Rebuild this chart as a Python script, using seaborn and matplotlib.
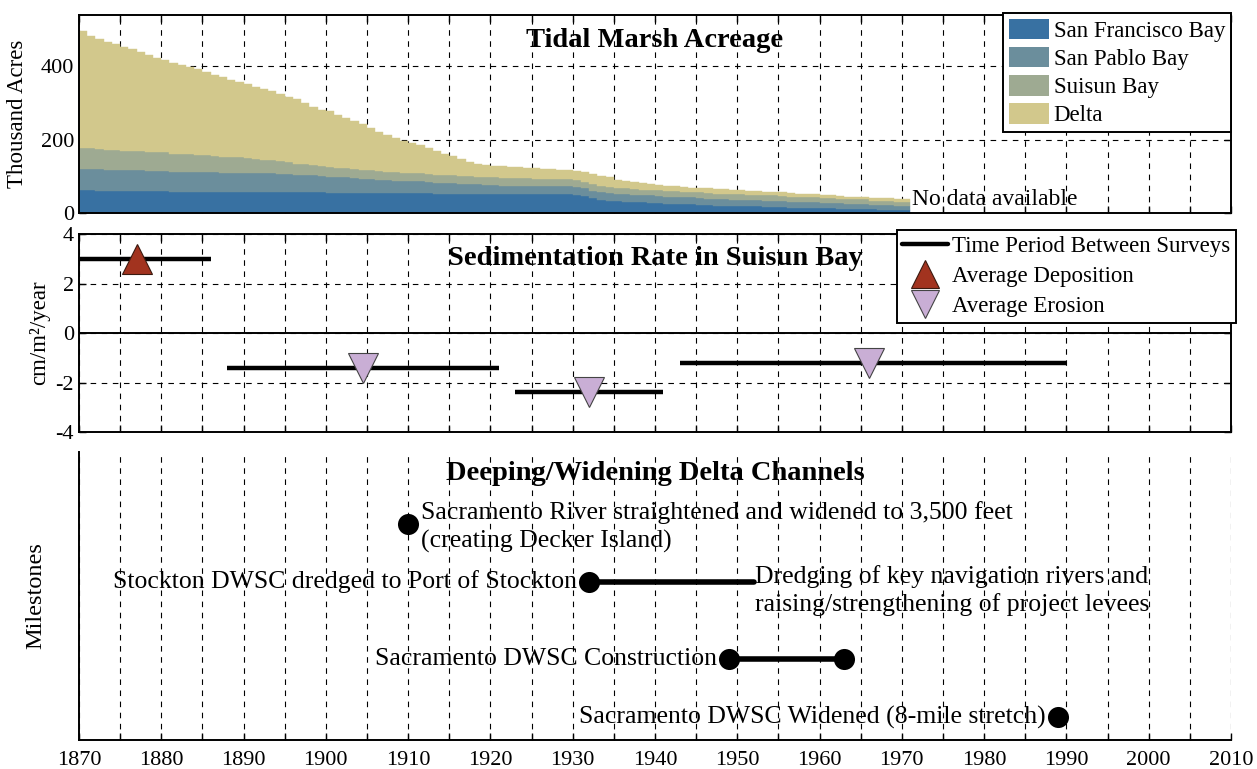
import matplotlib
matplotlib.use("Agg")
import matplotlib.pyplot as plt
import seaborn as sns
import pandas as pd
from matplotlib.patches import Patch
from matplotlib.lines import Line2D
from matplotlib.ticker import MultipleLocator, FuncFormatter

# ---------------- data: tidal marsh acreage (thousand acres) ----------------
years = list(range(1870, 1971))
san_francisco_bay = [
    62, 62, 61, 59, 59, 59, 59, 59, 59, 59,
    59, 57, 57, 57, 57, 57, 57, 57, 57, 57,
    57, 57, 57, 57, 57, 57, 57, 57, 57, 57,
    55, 55, 55, 55, 55, 55, 55, 55, 55, 55,
    55, 55, 55, 52, 52, 52, 52, 52, 52, 52,
    52, 52, 52, 52, 52, 52, 52, 52, 52, 52,
    50, 46, 40, 36, 33, 32, 31, 30, 29, 28,
    27, 25, 25, 24, 24, 23, 21, 20, 20, 19,
    19, 18, 18, 17, 17, 16, 15, 14, 14, 14,
    13, 13, 12, 12, 11, 11, 10, 9, 9, 8,
    7]
san_pablo_bay = [
    59, 59, 58, 58, 58, 57, 57, 57, 56, 56,
    56, 55, 55, 55, 54, 54, 54, 53, 53, 53,
    52, 52, 51, 51, 50, 49, 48, 47, 46, 45,
    44, 43, 42, 40, 39, 37, 36, 35, 33, 32,
    31, 31, 30, 30, 29, 29, 28, 27, 26, 25,
    24, 23, 23, 22, 22, 21, 21, 21, 21, 21,
    21, 21, 21, 21, 21, 21, 20, 20, 20, 20,
    20, 19, 19, 19, 19, 18, 18, 18, 18, 17,
    17, 17, 17, 16, 16, 16, 15, 15, 15, 15,
    14, 14, 14, 13, 13, 13, 12, 12, 12, 11,
    11]
suisun_bay = [
    56, 56, 55, 55, 54, 54, 53, 53, 52, 51,
    51, 50, 49, 48, 47, 46, 45, 44, 43, 42,
    40, 38, 37, 36, 34, 32, 30, 29, 28, 27,
    26, 26, 25, 25, 24, 24, 24, 23, 23, 23,
    23, 23, 22, 22, 22, 22, 22, 21, 21, 21,
    21, 21, 21, 21, 21, 21, 20, 20, 19, 19,
    18, 18, 17, 17, 16, 16, 16, 16, 15, 15,
    15, 15, 15, 15, 15, 15, 15, 15, 15, 15,
    15, 15, 15, 15, 15, 15, 14, 14, 14, 14,
    14, 14, 13, 13, 13, 13, 12, 12, 12, 12,
    12]
delta = [
    318, 306, 300, 295, 289, 283, 277, 270, 263, 258,
    250, 248, 243, 237, 234, 227, 221, 216, 211, 206,
    202, 197, 192, 188, 184, 179, 175, 168, 159, 153,
    152, 144, 138, 130, 124, 116, 107, 100, 93, 87,
    82, 76, 70, 66, 59, 52, 46, 40, 36, 33,
    32, 31, 30, 30, 29, 29, 28, 27, 26, 25,
    26, 28, 29, 27, 27, 22, 21, 19, 18, 17,
    15, 16, 14, 13, 11, 12, 13, 13, 12, 13,
    11, 11, 10, 10, 9, 9, 10, 10, 9, 8,
    8, 7, 8, 7, 7, 6, 8, 8, 7, 8,
    8]
region_names = ["San Francisco Bay", "San Pablo Bay", "Suisun Bay", "Delta"]
region_colors = ["#3871A2", "#6B8E9C", "#9EAA92", "#D2C88C"]

# ---------------- data: sedimentation rate in Suisun Bay ----------------
survey_start = [1870, 1888, 1923, 1943]
survey_end = [1886, 1921, 1941, 1990]
survey_mid = [1877, 1904.5, 1932, 1966]
sed_rate = [3.0, -1.4, -2.4, -1.2]

# ---------------- data: milestones ----------------
event_labels = [
    "Sacramento River straightened and widened to 3,500 feet\n(creating Decker Island)",
    "Stockton DWSC dredged to Port of Stockton",
    "Sacramento DWSC Construction",
    "Sacramento DWSC Widened (8-mile stretch)",
]
event_start = [1910, 1932, 1949, 1989]
event_end = [1910, 1952, 1963, 1989]
event_end_dot = [False, False, True, False]
event_level = [0.75, 0.55, 0.28, 0.08]
event_label_side = ["right", "left", "left", "left"]
dredging_label = "Dredging of key navigation rivers and\nraising/strengthening of project levees"

# ---------------- style ----------------
sns.set_style("ticks")
plt.rcParams["font.family"] = ["Liberation Serif", "DejaVu Serif"]
plt.rcParams["axes.unicode_minus"] = False
for k in ("text.color", "axes.labelcolor", "xtick.color", "ytick.color", "axes.edgecolor"):
    plt.rcParams[k] = "black"
FS_TICK = 16
FS_LEG = 16.5
FS_TITLE = 20.5
FS_ANN = 18.5
FS_LAB = 16.5
grid_kw = dict(linestyle=(0, (5, 5)), color="black", linewidth=0.8)

fig = plt.figure(figsize=(12.57, 7.69), dpi=100)
ax1 = fig.add_axes([0.0628, 0.723, 0.9165, 0.2575])
ax2 = fig.add_axes([0.0628, 0.4382, 0.9165, 0.2575])
ax3 = fig.add_axes([0.0628, 0.0377, 0.9165, 0.3745])

def year_fmt(v, pos):
    return f"{int(round(v))}" if int(round(v)) % 10 == 0 else ""

for ax in (ax1, ax2, ax3):
    ax.set_xlim(1870, 2010)
    ax.xaxis.set_major_locator(MultipleLocator(5))
    ax.set_axisbelow(True)
    ax.tick_params(direction="in", length=5, width=1, labelsize=FS_TICK, color="black",
                   labelcolor="black")
    for s in ax.spines.values():
        s.set_linewidth(1.4)
        s.set_color("black")

# ---------------- top panel ----------------
df = pd.DataFrame({"year": years, region_names[0]: san_francisco_bay,
                   region_names[1]: san_pablo_bay, region_names[2]: suisun_bay,
                   region_names[3]: delta})
x_edges = years + [years[-1] + 1]
lower = [0] * len(years)
for name, col in zip(region_names, region_colors):
    upper = [a + b for a, b in zip(lower, df[name])]
    ax1.fill_between(x_edges, lower + [lower[-1]], upper + [upper[-1]],
                     step="post", color=col, edgecolor=col, linewidth=0.3)
    lower = upper
ax1.set_ylim(0, 540)
ax1.set_yticks([0, 200, 400])
ax1.grid(True, axis="both", **grid_kw)
ax1.tick_params(top=True, right=True, labelbottom=False)
ax1.set_ylabel("Thousand Acres", fontsize=FS_LAB)
ax1.yaxis.set_label_coords(-0.0443, 0.5)
ax1.text(1940, 0.87, "Tidal Marsh Acreage", transform=ax1.get_xaxis_transform(),
         ha="center", va="center", fontsize=FS_TITLE, fontweight="bold")
ax1.text(1971.2, 36, "No data available", ha="left", va="center", fontsize=17)
leg1 = ax1.legend([Patch(facecolor=c, edgecolor="none") for c in region_colors],
                  region_names, loc="upper right", bbox_to_anchor=(1.0, 1.01),
                  borderaxespad=0, fontsize=FS_LEG, frameon=True, fancybox=False,
                  handlelength=1.75, handleheight=1.0, handletextpad=0.2,
                  labelspacing=0.22, borderpad=0.25)
leg1.get_frame().set_edgecolor("black")
leg1.get_frame().set_linewidth(1.4)
leg1.get_frame().set_alpha(1)

# ---------------- middle panel ----------------
ax2.set_ylim(-4, 4)
ax2.set_yticks([-4, -2, 0, 2, 4])
ax2.grid(True, axis="both", **grid_kw)
ax2.axhline(0, color="black", linewidth=1.4, zorder=2)
ax2.hlines(sed_rate, survey_start, survey_end, color="black", linewidth=3.2, zorder=3)
dep_color, ero_color = "#A2331F", "#C9AED5"
for xm, r in zip(survey_mid, sed_rate):
    if r > 0:
        ax2.plot([xm], [r], marker="^", markersize=21, color=dep_color,
                 markeredgecolor="#3a1a10", markeredgewidth=0.8, zorder=4)
    else:
        ax2.plot([xm], [r], marker="v", markersize=21, color=ero_color,
                 markeredgecolor="#444444", markeredgewidth=0.8, zorder=4)
ax2.tick_params(top=True, right=True, labelbottom=False)
ax2.set_ylabel("cm/m\u00b2/year", fontsize=FS_LAB)
ax2.yaxis.set_label_coords(-0.025, 0.5)
ax2.text(1940, 0.875, "Sedimentation Rate in Suisun Bay", transform=ax2.get_xaxis_transform(),
         ha="center", va="center", fontsize=FS_TITLE, fontweight="bold")
h_line = Line2D([], [], color="black", linewidth=3.2)
h_dep = Line2D([], [], linestyle="none", marker="^", markersize=20, color=dep_color,
               markeredgecolor="#3a1a10", markeredgewidth=0.8)
h_ero = Line2D([], [], linestyle="none", marker="v", markersize=20, color=ero_color,
               markeredgecolor="#444444", markeredgewidth=0.8)
leg2 = ax2.legend([h_line, h_dep, h_ero],
                  ["Time Period Between Surveys", "Average Deposition", "Average Erosion"],
                  loc="upper right", bbox_to_anchor=(1.004, 1.02), borderaxespad=0,
                  fontsize=FS_LEG, frameon=True, fancybox=False, handlelength=2.0,
                  handletextpad=0.15, labelspacing=0.4, borderpad=0.25, numpoints=1)
leg2.get_frame().set_edgecolor("black")
leg2.get_frame().set_linewidth(1.4)
leg2.get_frame().set_alpha(1)

# ---------------- bottom panel ----------------
ax3.set_ylim(0, 1)
ax3.set_yticks([])
ax3.spines["top"].set_visible(False)
ax3.spines["right"].set_visible(False)
ax3.grid(True, axis="x", **grid_kw)
ax3.xaxis.set_major_formatter(FuncFormatter(year_fmt))
ax3.tick_params(top=False, right=False, left=False, pad=8)
ax3.set_ylabel("Milestones", fontsize=17.5)
ax3.yaxis.set_label_coords(-0.028, 0.5)
ax3.text(1940, 0.927, "Deeping/Widening Delta Channels", ha="center", va="center",
         fontsize=FS_TITLE, fontweight="bold")

dots_x, dots_y = [], []
for lab, xs, xe, dot_end, lvl, side in zip(event_labels, event_start, event_end,
                                           event_end_dot, event_level, event_label_side):
    if xe != xs:
        ax3.plot([xs, xe], [lvl, lvl], color="black", linewidth=4, zorder=3)
    dots_x.append(xs); dots_y.append(lvl)
    if dot_end:
        dots_x.append(xe); dots_y.append(lvl)
    if side == "right":
        ax3.text(xs + 1.6, lvl - 0.01, lab, ha="left", va="center", fontsize=FS_ANN,
                 linespacing=1.3)
    else:
        ax3.text(xs - 1.5, lvl, lab, ha="right", va="center", fontsize=FS_ANN)
sns.scatterplot(x=dots_x, y=dots_y, ax=ax3, color="black", s=230, edgecolor="black",
                linewidth=0, zorder=4, legend=False)
ax3.text(1952.2, 0.52, dredging_label, ha="left", va="center", fontsize=FS_ANN,
         linespacing=1.3)
ax3.set_xlim(1870, 2010)

fig.savefig("out.png", dpi=100)
